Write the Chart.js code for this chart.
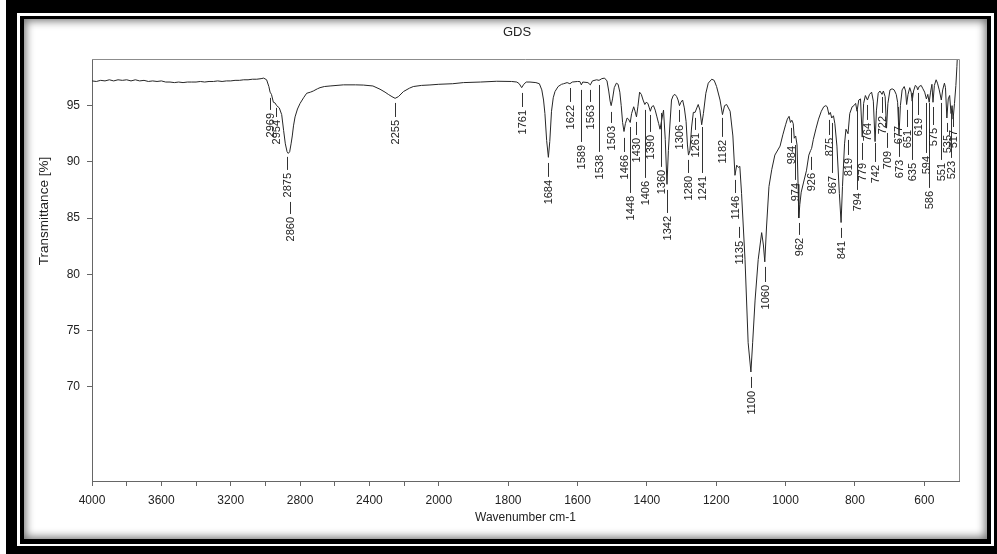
<!DOCTYPE html>
<html>
<head>
<meta charset="utf-8">
<title>GDS</title>
<script src="https://cdn.jsdelivr.net/npm/chart.js@4.4.1/dist/chart.umd.min.js"></script>
<style>
  html, body { margin: 0; padding: 0; background: #fff; overflow: hidden; }
  .frame { position: absolute; }
  #outer { left: 6px; top: 0; width: 991px; height: 554px; background: #000; }
  #gap { left: 17px; top: 13px; width: 977px; height: 533px; background: #fff; }
  #inner { left: 20px; top: 16px; width: 971px; height: 528px; background: #000; }
  #panel { left: 24px; top: 19px; width: 963px; height: 520px; background: #fff;
           box-shadow: inset 0 0 9px 2px rgba(0, 0, 0, 0.55); }
  #chart { position: absolute; left: 0; top: 0; }
</style>
</head>
<body>
<div class="frame" id="outer"></div>
<div class="frame" id="gap"></div>
<div class="frame" id="inner"></div>
<div class="frame" id="panel"></div>
<canvas id="chart" width="997" height="554"></canvas>
<script>
// Spectrum, region by region (wavenumber cm-1 / transmittance %)
const baselineWavenumbers = [
    4000, 3975, 3950, 3925, 3900, 3875, 3850, 3825, 3800, 3775,
    3750, 3725, 3700, 3675, 3650, 3625, 3600, 3575, 3550, 3525,
    3500, 3475, 3450, 3425, 3400, 3375, 3350, 3325, 3300, 3275,
    3250, 3225, 3200, 3175, 3150, 3125, 3100, 3075, 3050, 3025
];
const baselineTransmittance = [
    97.2, 97.15, 97.25, 97.2, 97.3, 97.2, 97.3, 97.25, 97.3, 97.2,
    97.3, 97.2, 97.25, 97.15, 97.2, 97.15, 97.2, 97.1, 97.1, 97.05,
    97.1, 97.05, 97.1, 97.1, 97.1, 97.15, 97.1, 97.15, 97.15, 97.2,
    97.15, 97.2, 97.2, 97.25, 97.25, 97.3, 97.3, 97.35, 97.35, 97.4
];

const chWavenumbers = [
    3010, 2993, 2980, 2973, 2965, 2954, 2945, 2935, 2920, 2906,
    2895, 2885, 2875, 2868, 2860, 2852, 2845, 2838, 2829, 2815,
    2800, 2780, 2762, 2740, 2724, 2700, 2685, 2660, 2627, 2550,
    2480, 2435, 2380, 2339, 2310, 2291, 2270, 2252, 2233, 2204,
    2170, 2147, 2100, 2051, 2000
];
const chTransmittance = [
    97.45, 97.3, 96.7, 96.2, 96.0, 95.3, 95.25, 95.0, 94.8, 94.2,
    92.8, 91.6, 90.9, 90.75, 90.9, 91.6, 92.3, 93.2, 94.0, 94.7,
    95.2, 95.7, 96.1, 96.2, 96.3, 96.5, 96.6, 96.7, 96.75, 96.85,
    96.85, 96.83, 96.75, 96.46, 96.2, 96.0, 95.8, 95.65, 95.8, 96.25,
    96.55, 96.7, 96.8, 96.84, 96.9
];

const carbonylWavenumbers = [
    1960, 1929, 1880, 1833, 1790, 1775, 1768, 1761, 1755, 1748,
    1737, 1720, 1710, 1703, 1698, 1694, 1689, 1684, 1680, 1675,
    1670, 1665, 1656, 1646
];
const carbonylTransmittance = [
    96.95, 97.05, 97.1, 97.17, 97.15, 97.1, 96.95, 96.6, 96.9, 97.1,
    97.1, 97.05, 96.95, 96.4, 95.5, 94.3, 91.9, 90.4, 91.8, 94.5,
    95.7, 96.25, 96.7, 96.9
];

const midWavenumbers = [
    1640, 1630, 1622, 1615, 1600, 1593, 1589, 1585, 1570, 1563,
    1557, 1545, 1538, 1530, 1522, 1515, 1510, 1506, 1503, 1499,
    1494, 1488, 1483, 1478, 1474, 1470, 1466, 1462, 1457, 1453,
    1448, 1444, 1438, 1434, 1430, 1426, 1421, 1416, 1411, 1406,
    1402, 1397, 1393, 1390, 1386, 1381, 1376, 1371, 1366, 1362,
    1358, 1352, 1347, 1342, 1338, 1334, 1329, 1324, 1319, 1314,
    1310, 1306, 1302, 1297, 1292, 1287, 1283, 1280, 1276, 1271,
    1266, 1261, 1256, 1252, 1247, 1242, 1237, 1230, 1223, 1213,
    1206, 1199, 1189, 1182, 1176, 1170, 1160, 1152, 1146, 1141,
    1136, 1132
];
const midTransmittance = [
    96.95, 97.05, 96.95, 97.1, 97.15, 97.14, 96.85, 97.1, 97.05, 96.85,
    97.2, 97.3, 97.25, 97.4, 97.45, 97.2, 96.3, 95.4, 95.0, 95.6,
    96.6, 97.0, 96.9, 96.2, 95.0, 93.5, 92.7, 93.4, 93.9, 93.8,
    93.5, 94.3, 94.9, 94.5, 94.0, 94.9, 96.2, 96.0, 95.5, 95.1,
    95.3, 95.2, 94.8, 94.5, 94.9, 95.0, 94.6, 94.0, 93.4, 92.9,
    93.6, 94.6, 92.0, 88.0, 91.0, 93.1, 95.5, 95.9, 96.0, 95.8,
    95.5, 95.0, 95.3, 95.5, 94.8, 93.6, 91.5, 90.6, 91.0, 93.1,
    94.4, 94.4, 94.8, 95.1, 94.6, 93.3, 94.3, 96.1, 97.0, 97.35,
    97.25, 96.7, 95.5, 94.2, 95.0, 95.1, 94.5, 92.3, 88.8, 89.7,
    89.5, 89.6
];

const fingerprintWavenumbers = [
    1127, 1117, 1108, 1100, 1095, 1088, 1079, 1069, 1064, 1060,
    1055, 1048, 1040, 1031, 1016, 1008, 1000, 995, 990, 986,
    982, 978, 975, 971, 967, 964, 962, 959, 955, 948,
    940, 933, 928, 925, 920, 912, 905, 897, 890, 884,
    880, 875, 871, 867, 862, 858, 852, 845, 840, 836,
    830, 826, 820, 815, 808, 803, 798, 794, 789, 784,
    779, 775, 770, 764, 758, 752, 747, 742, 738, 733,
    728, 722, 718, 713, 709, 705, 699, 693, 687, 681,
    677, 673, 669, 664, 658, 654, 651, 647, 642, 638,
    635, 631, 626, 622, 619, 615, 609, 604, 599, 594,
    590, 586, 582, 578, 575, 571, 566, 562, 557, 551,
    547, 542, 539, 535, 531, 527, 523, 520, 517, 513,
    509, 506, 503
];
const fingerprintTransmittance = [
    87.2, 81.3, 73.9, 71.3, 73.9, 77.7, 81.3, 83.7, 82.6, 81.1,
    84.2, 87.8, 89.3, 90.6, 91.4, 92.4, 93.3, 93.8, 94.05, 93.5,
    93.7, 93.4, 92.1, 92.3, 91.5, 88.0, 85.0, 86.2, 87.3, 88.2,
    89.2, 90.6, 91.0, 91.2, 92.0, 93.0, 93.8, 94.5, 94.9, 95.0,
    94.9, 94.2, 94.4, 93.9, 94.1, 93.4, 91.4, 87.2, 84.6, 87.8,
    91.6, 92.9, 92.5, 94.3, 94.9, 95.0, 95.2, 94.5, 95.5, 95.6,
    92.2, 95.2, 95.9, 95.5, 96.0, 96.2, 95.4, 91.8, 94.6, 96.1,
    96.3, 96.0, 96.3, 95.8, 93.0, 95.2, 96.4, 96.5, 96.4, 96.0,
    95.3, 92.4, 95.0, 96.4, 96.7, 96.3, 95.1, 96.0, 96.6, 96.2,
    95.4, 96.3, 96.8, 96.7, 96.4, 96.7, 96.8, 96.5, 96.2, 95.6,
    96.0, 95.3, 96.2, 96.9, 95.3, 96.8, 97.3, 97.0, 96.4, 95.5,
    96.4, 97.0, 96.6, 93.9, 95.6, 95.9, 94.3, 95.0, 93.8, 95.2,
    96.8, 98.5, 100.5
];

// Peak picking labels: wavenumber, top and bottom of the marker line (in %T)
const peakWavenumbers = [
    2969, 2954, 2875, 2860, 2255, 1761, 1684, 1622, 1589, 1563,
    1538, 1503, 1466, 1448, 1430, 1406, 1390, 1360, 1342, 1306,
    1280, 1261, 1241, 1182, 1146, 1135, 1100, 1060, 984, 974,
    962, 926, 875, 867, 841, 819, 794, 779, 764, 742,
    722, 709, 677, 673, 651, 635, 619, 594, 586, 575,
    551, 535, 523, 517
];
const peakLineTop = [
    95.69, 94.80, 90.44, 86.43, 95.24, 96.13, 89.90, 96.57, 96.40, 96.40,
    96.84, 94.44, 92.13, 93.10, 93.55, 94.62, 94.17, 94.35, 87.50, 94.62,
    90.17, 93.91, 93.10, 93.91, 88.39, 84.21, 70.86, 80.65, 93.02, 91.50,
    84.56, 90.44, 93.73, 93.46, 84.12, 91.95, 94.62, 91.68, 95.06, 91.68,
    95.77, 92.57, 94.88, 91.95, 94.62, 96.13, 96.13, 95.24, 95.24, 94.88,
    95.24, 93.46, 94.62, 94.00
];
const peakLineBottom = [
    94.62, 93.99, 89.28, 85.36, 93.99, 94.88, 88.66, 95.33, 91.77, 95.33,
    90.88, 93.46, 90.88, 87.23, 92.39, 88.57, 92.66, 89.55, 85.45, 93.55,
    89.01, 92.84, 89.01, 92.22, 87.23, 83.23, 69.88, 79.31, 91.68, 88.39,
    83.50, 89.28, 92.39, 89.01, 83.23, 90.61, 87.50, 90.17, 93.73, 89.99,
    94.35, 91.24, 93.46, 90.44, 93.10, 90.17, 94.17, 90.79, 87.68, 93.28,
    90.17, 92.66, 90.35, 93.10
];

// Axis ticks
const xTickValues = [4000, 3800, 3600, 3400, 3200, 3000, 2800, 2600, 2400, 2200,
                     2000, 1800, 1600, 1400, 1200, 1000, 800, 600];
const xTickLabels = [4000, 3600, 3200, 2800, 2400, 2000, 1800, 1600, 1400, 1200, 1000, 800, 600];
const yTickValues = [70, 75, 80, 85, 90, 95];

// The x axis is compressed by half above 2000 cm-1 (OPUS style)
function toAxis(w) {
    return w >= 2000 ? (4000 - w) / 2 : 1000 + (2000 - w);
}
function fromAxis(u) {
    return u <= 1000 ? 4000 - 2 * u : 2000 - (u - 1000);
}

const allWavenumbers = [].concat(baselineWavenumbers, chWavenumbers, carbonylWavenumbers,
                                 midWavenumbers, fingerprintWavenumbers);
const allTransmittance = [].concat(baselineTransmittance, chTransmittance, carbonylTransmittance,
                                   midTransmittance, fingerprintTransmittance);
const points = allWavenumbers.map((w, i) => ({ x: toAxis(w), y: allTransmittance[i] }));

const FONT = "'Liberation Sans', Arial, sans-serif";

// crowded labels are pushed sideways a little, like the original software does
const labelNudge = { 2969: -1, 2954: 3 };

// Draws the plot box, titles and peak labels
const decorations = {
    id: 'decorations',
    afterDatasetsDraw(chart) {
        const c = chart.ctx;
        const area = chart.chartArea;
        const xs = chart.scales.x;
        const ys = chart.scales.y;
        c.save();

        // top and right edge of the box
        c.strokeStyle = '#8c8c8c';
        c.lineWidth = 1;
        c.beginPath();
        c.moveTo(area.left, Math.round(area.top) + 0.5);
        c.lineTo(Math.round(area.right) + 0.5, Math.round(area.top) + 0.5);
        c.lineTo(Math.round(area.right) + 0.5, area.bottom);
        c.stroke();

        // peak labels
        c.strokeStyle = '#333';
        c.fillStyle = '#222';
        c.font = '11px ' + FONT;
        c.textAlign = 'right';
        c.textBaseline = 'middle';
        peakWavenumbers.forEach((w, i) => {
            const x = Math.round(xs.getPixelForValue(toAxis(w))) + 0.5 + (labelNudge[w] || 0);
            const y1 = ys.getPixelForValue(peakLineTop[i]);
            const y2 = ys.getPixelForValue(peakLineBottom[i]);
            c.beginPath();
            c.moveTo(x, y1);
            c.lineTo(x, y2);
            c.stroke();
            c.save();
            c.translate(x, y2 + 3);
            c.rotate(-Math.PI / 2);
            c.fillText(String(w), 0, 0);
            c.restore();
        });

        // titles
        c.fillStyle = '#222';
        c.textAlign = 'center';
        c.font = '13px ' + FONT;
        c.fillText('GDS', 517, 32);
        c.font = '12px ' + FONT;
        c.fillText('Wavenumber cm-1', (area.left + area.right) / 2, 518);
        c.save();
        c.translate(44, 211);
        c.rotate(-Math.PI / 2);
        c.font = '13.5px ' + FONT;
        c.fillText('Transmittance [%]', 0, 0);
        c.restore();

        c.restore();
    }
};

const ctx = document.getElementById('chart').getContext('2d');
new Chart(ctx, {
    type: 'line',
    data: {
        datasets: [{
            label: 'GDS',
            data: points,
            borderColor: '#262626',
            borderWidth: 1,
            pointRadius: 0,
            tension: 0,
            fill: false
        }]
    },
    options: {
        responsive: false,
        animation: false,
        devicePixelRatio: 1,
        layout: { padding: { left: 0, right: 38, top: 59, bottom: 0 } },
        plugins: {
            legend: { display: false },
            tooltip: { enabled: false }
        },
        scales: {
            x: {
                type: 'linear',
                min: 0,
                max: 2500,
                afterBuildTicks: scale => {
                    scale.ticks = xTickValues.map(w => ({ value: toAxis(w) }));
                },
                afterFit: scale => { scale.height = 73; },
                ticks: {
                    autoSkip: false,
                    maxRotation: 0,
                    padding: 7,
                    color: '#222',
                    font: { family: FONT, size: 12 },
                    callback: value => {
                        const w = Math.round(fromAxis(value));
                        return xTickLabels.includes(w) ? String(w) : '';
                    }
                },
                grid: { drawOnChartArea: false, tickLength: 5, color: '#666' },
                border: { color: '#666' }
            },
            y: {
                min: 61.6,
                max: 99.15,
                afterBuildTicks: scale => {
                    scale.ticks = yTickValues.map(v => ({ value: v }));
                },
                afterFit: scale => { scale.width = 92; },
                ticks: {
                    padding: 7,
                    color: '#222',
                    font: { family: FONT, size: 12 }
                },
                grid: { drawOnChartArea: false, tickLength: 5, color: '#666' },
                border: { color: '#666' }
            }
        }
    },
    plugins: [decorations]
});
</script>
</body>
</html>
